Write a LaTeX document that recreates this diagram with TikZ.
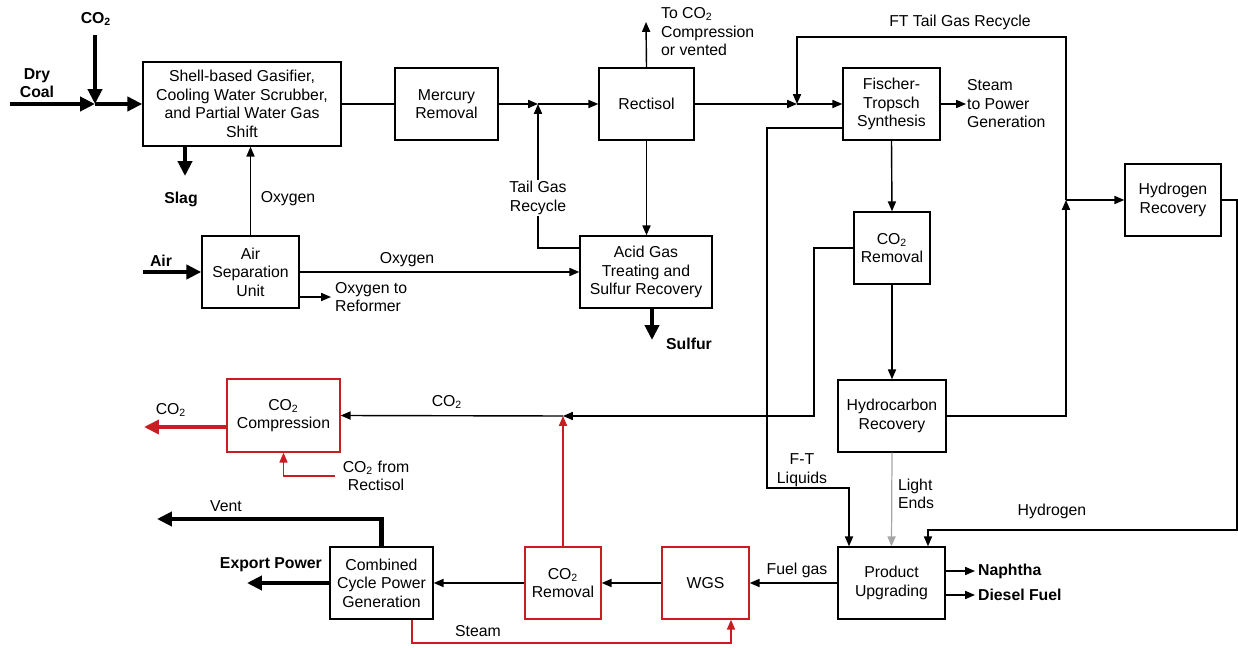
\documentclass[tikz,border=0pt]{standalone}
\usepackage{fontspec}
\setmainfont{Liberation Sans}
\usepackage{tikz}
\usetikzlibrary{positioning,arrows.meta,calc}
\newcommand{\cotwo}{CO\textsubscript{2}}
\definecolor{flowred}{RGB}{200,30,35}
\tikzset{
  procbox/.style={draw, line width=0.8pt, fill=white, minimum width=1.94cm, minimum height=1.44cm, align=center, inner sep=1pt},
  redbox/.style={procbox, draw=flowred},
  plainline/.style={line width=0.8pt},
  flowarrow/.style={-{Triangle[length=5.6pt, width=4.6pt]}, line width=0.8pt},
  redarrow/.style={flowarrow, draw=flowred, line width=0.7pt},
  greyarrow/.style={flowarrow, draw=gray!70, line width=0.7pt},
  bigarrow/.style={-{Triangle[length=8.5pt, width=8pt]}, line width=2.3pt},
  bigredarrow/.style={bigarrow, draw=flowred, line width=2pt},
  lbl/.style={align=center, inner sep=1pt},
  boldlbl/.style={lbl, font=\fontsize{9}{10.5}\selectfont\bfseries}
}
\begin{document}
\begin{tikzpicture}[x=0.02cm, y=-0.02cm, every node/.style={font=\fontsize{9}{10.5}\selectfont}]
  \useasboundingbox (0,0) rectangle (1238,648);
  \node[procbox, minimum width=3.96cm, minimum height=1.68cm] (gas) at (242,104) {Shell-based Gasifier,\\Cooling Water Scrubber,\\and Partial Water Gas\\Shift};
  \node[procbox, minimum width=2.06cm] (merc) at (446.5,104) {Mercury\\Removal};
  \node[procbox, minimum width=1.9cm] (rect) at (646.5,104) {Rectisol};
  \node[procbox] (ft) at (891.5,104) {Fischer-\\Tropsch\\Synthesis};
  \node[procbox, minimum width=1.92cm] (h2rec) at (1173,200) {Hydrogen\\Recovery};
  \node[procbox] (asu) at (250.5,272) {Air\\Separation\\Unit};
  \node[procbox, minimum width=2.64cm] (acid) at (646,272) {Acid Gas\\Treating and\\Sulfur Recovery};
  \node[procbox, minimum width=1.52cm] (co2rem) at (892,248) {\cotwo\\Removal};
  \node[procbox, minimum width=2.16cm] (hcrec) at (892,416) {Hydrocarbon\\Recovery};
  \node[redbox, minimum width=2.26cm, minimum height=1.46cm] (comp) at (283.5,415.5) {\cotwo\\Compression};
  \node[procbox, minimum width=2.06cm] (ccpg) at (381.5,583) {Combined\\Cycle Power\\Generation};
  \node[redbox, minimum width=1.52cm] (rem2) at (563,583) {\cotwo\\Removal};
  \node[redbox, minimum width=1.74cm] (wgs) at (705.5,583) {WGS};
  \node[procbox, minimum width=2.14cm] (prod) at (891.5,583) {Product\\Upgrading};

  \coordinate (coalin) at (10,104);
  \coordinate (co2in) at (95,35);
  \coordinate (jcoal) at (95,104);
  \coordinate (slagend) at (185,176);
  \coordinate (airin) at (143,272);
  \coordinate (reform) at (331,297);
  \coordinate (jtail) at (538,104);
  \coordinate (ventup) at (646,22);
  \coordinate (sulfend) at (652,340);
  \coordinate (jft) at (797,104);
  \coordinate (steamend) at (966,104);
  \coordinate (jh2) at (1066,200);
  \coordinate (ftrtop) at (1066,37);
  \coordinate (ftlbend) at (767,488);
  \coordinate (co2bend) at (814,416);
  \coordinate (jco2) at (563,416);
  \coordinate (co2out) at (144,427);
  \coordinate (fromrect) at (335,476);
  \coordinate (h2bend) at (1237,530);
  \coordinate (naphend) at (975,571);
  \coordinate (dieselend) at (975,595);
  \coordinate (exportend) at (247,583);
  \coordinate (ventend) at (157,519);
  \coordinate (steambot) at (478,643);

  \draw[bigarrow] (coalin) -- (jcoal);
  \draw[bigarrow] (co2in) -- (jcoal);
  \draw[bigarrow] (jcoal) -- (gas.west |- jcoal);
  \draw[bigarrow] (gas.south -| slagend) -- (slagend);
  \draw[flowarrow] (asu.north) -- (asu.north |- gas.south);
  \draw[bigarrow] (airin) -- (asu.west);
  \draw[flowarrow] (asu.east) -- (acid.west);
  \draw[flowarrow] (asu.east |- reform) -- (reform);
  \draw[plainline] (gas.east |- merc.west) -- (merc.west);
  \draw[flowarrow] (merc.east) -- (jtail);
  \draw[flowarrow] (jtail) -- (rect.west);
  \draw[flowarrow] ([yshift=0.48cm]acid.west) -| (jtail);
  \draw[flowarrow] (rect.north) -- (ventup);
  \draw[flowarrow] (rect.south) -- (rect.south |- acid.north);
  \draw[bigarrow] (acid.south -| sulfend) -- (sulfend);
  \draw[flowarrow] (rect.east) -- (jft);
  \draw[flowarrow] (jft) -- (ft.west);
  \draw[flowarrow] (ft.east) -- (steamend);
  \draw[flowarrow] (jh2) -- (ftrtop) -| (jft);
  \draw[flowarrow] (jh2) -- (h2rec.west);
  \draw[flowarrow] (hcrec.east) -| (jh2);
  \draw[flowarrow] (ft.south) -- (co2rem.north);
  \draw[flowarrow] (co2rem.south) -- (hcrec.north);
  \draw[flowarrow] ([yshift=-0.48cm]ft.west) -| (ftlbend) -| ([xshift=-0.85cm]prod.north);
  \draw[greyarrow] (hcrec.south) -- (prod.north);
  \draw[flowarrow] (h2rec.east) -| (h2bend) -| ([xshift=0.73cm]prod.north);
  \draw[flowarrow] (co2rem.west) -| (co2bend) -- (jco2);
  \draw[flowarrow] (jco2) -- (comp.east);
  \draw[redarrow] (rem2.north) -- (jco2);
  \draw[bigredarrow] (comp.west |- co2out) -- (co2out);
  \draw[redarrow] (fromrect) -| (comp.south);
  \draw[flowarrow] (prod.east |- naphend) -- (naphend);
  \draw[flowarrow] (prod.east |- dieselend) -- (dieselend);
  \draw[flowarrow] (prod.west) -- (wgs.east);
  \draw[flowarrow] (wgs.west) -- (rem2.east);
  \draw[flowarrow] (rem2.west) -- (ccpg.east);
  \draw[bigarrow] (ccpg.west) -- (exportend);
  \draw[bigarrow] (ccpg.north) |- (ventend);
  \draw[redarrow] ([xshift=0.61cm]ccpg.south) |- (steambot) -| ([xshift=0.51cm]wgs.south);

  \node[boldlbl] (lco2) at (96,19) {\cotwo};
  \node[boldlbl] (lcoal) at (37,83) {Dry\\Coal};
  \node[boldlbl] (lslag) at (181,199) {Slag};
  \node[lbl] (loxy1) at (288,199) {Oxygen};
  \node[boldlbl] (lair) at (161,261) {Air};
  \node[lbl] (loxy2) at (407,260) {Oxygen};
  \node[lbl, align=left, anchor=west] (lref) at (333,297) {Oxygen to\\Reformer};
  \node[lbl, fill=white] (ltail) at (538,198) {Tail Gas\\Recycle};
  \node[lbl, align=left, anchor=west] (lvent) at (659,32) {To \cotwo\\Compression\\or vented};
  \node[boldlbl] (lsulf) at (689,344) {Sulfur};
  \node[lbl] (lftr) at (960,22) {FT Tail Gas Recycle};
  \node[lbl, align=left, anchor=west] (lsteam) at (965,104) {Steam\\to Power\\Generation};
  \node[lbl] (lco2a) at (447,402) {\cotwo};
  \node[lbl] (lco2b) at (171,410) {\cotwo};
  \node[lbl] (lfrom) at (376,476) {\cotwo{} from\\Rectisol};
  \node[lbl] (lftl) at (802,470) {F-T\\Liquids};
  \node[lbl, align=left, anchor=west] (lle) at (896,494) {Light\\Ends};
  \node[lbl] (lh2) at (1052,511) {Hydrogen};
  \node[lbl] (lventb) at (226,506) {Vent};
  \node[boldlbl, anchor=east] (lexp) at (324,565) {Export Power};
  \node[lbl] (lstm) at (478,631) {Steam};
  \node[lbl] (lfuel) at (797,570) {Fuel gas};
  \node[boldlbl, anchor=west] (lnaph) at (976,571) {Naphtha};
  \node[boldlbl, anchor=west] (ldies) at (976,595) {Diesel Fuel};
\end{tikzpicture}
\end{document}
